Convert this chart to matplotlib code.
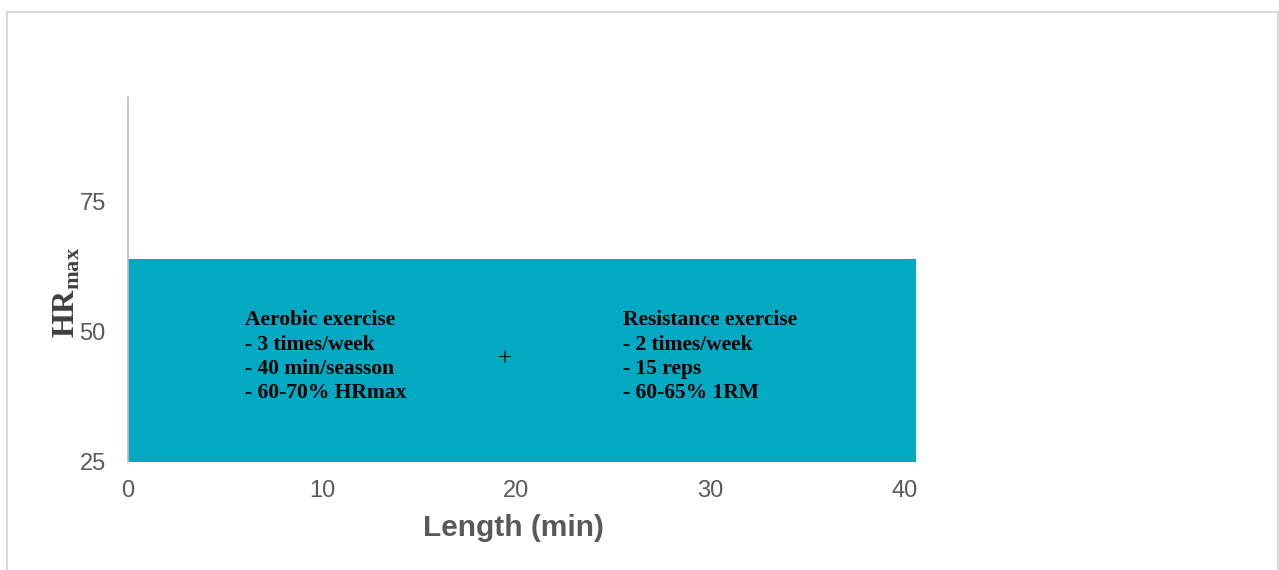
import matplotlib
matplotlib.use("Agg")
import matplotlib.pyplot as plt
from matplotlib.patches import Rectangle

# data
bar_start = [0]
bar_length = [40.6]
hr_low = [25]
hr_high = [64]
x_ticks = [0, 10, 20, 30, 40]
y_ticks = [25, 50, 75]
aerobic_lines = ["Aerobic exercise", "- 3 times/week", "- 40 min/seasson", "- 60-70% HRmax"]
resistance_lines = ["Resistance exercise", "- 2 times/week", "- 15 reps", "- 60-65% 1RM"]

plt.rcParams['mathtext.fontset'] = 'custom'
plt.rcParams['mathtext.rm'] = 'Liberation Serif:bold'
plt.rcParams['mathtext.bf'] = 'Liberation Serif:bold'

fig = plt.figure(figsize=(12.79, 5.70), dpi=100)
fig.patch.set_facecolor('white')
# light frame round the picture
fig.add_artist(Rectangle((7/1279, -0.02), 1271/1279, 1.02 - 12/570, transform=fig.transFigure,
                         fill=False, edgecolor='#D9D9D9', lw=1.5))

ax = fig.add_axes([128/1279, 1 - 462/570, (924 - 128)/1279, (462 - 97)/570])
ax.bar(bar_start, [h - l for h, l in zip(hr_high, hr_low)], width=bar_length,
       bottom=hr_low, align='edge', color='#01A9C3', edgecolor='none')

ax.set_xlim(0, 41)
ax.set_ylim(25, 95)
ax.set_xticks(x_ticks)
ax.set_yticks(y_ticks)
ax.tick_params(length=0, labelsize=17, labelcolor='#595959')
ax.tick_params(axis='x', pad=13)
ax.tick_params(axis='y', pad=16)
for lab in ax.get_xticklabels() + ax.get_yticklabels():
    lab.set_fontfamily('Liberation Sans')
for s in ['top', 'right', 'bottom']:
    ax.spines[s].set_visible(False)
ax.spines['left'].set_color('#BFBFBF')
ax.spines['left'].set_linewidth(1.2)

txt_style = dict(fontfamily='Liberation Serif', fontweight='bold', fontsize=15.5,
                 color='black', va='center', ha='left', linespacing=1.28)
ax.text(6.05, 45.2, "\n".join(aerobic_lines), **txt_style)
ax.text(25.5, 45.2, "\n".join(resistance_lines), **txt_style)
ax.text(19.4, 44.6, "+", fontfamily='Liberation Serif', fontsize=18, ha='center', va='center')

fig.text(513/1279, 1 - 528/570, "Length (min)", fontfamily='Liberation Sans',
         fontweight='bold', fontsize=21.5, color='#595959', ha='center', va='center')
fig.text(66/1279, 1 - 292/570, r'$\mathrm{HR}_{\mathrm{max}}$', fontsize=23, color='#404040',
         rotation=90, ha='center', va='center')

fig.savefig('out.png', dpi=100)
